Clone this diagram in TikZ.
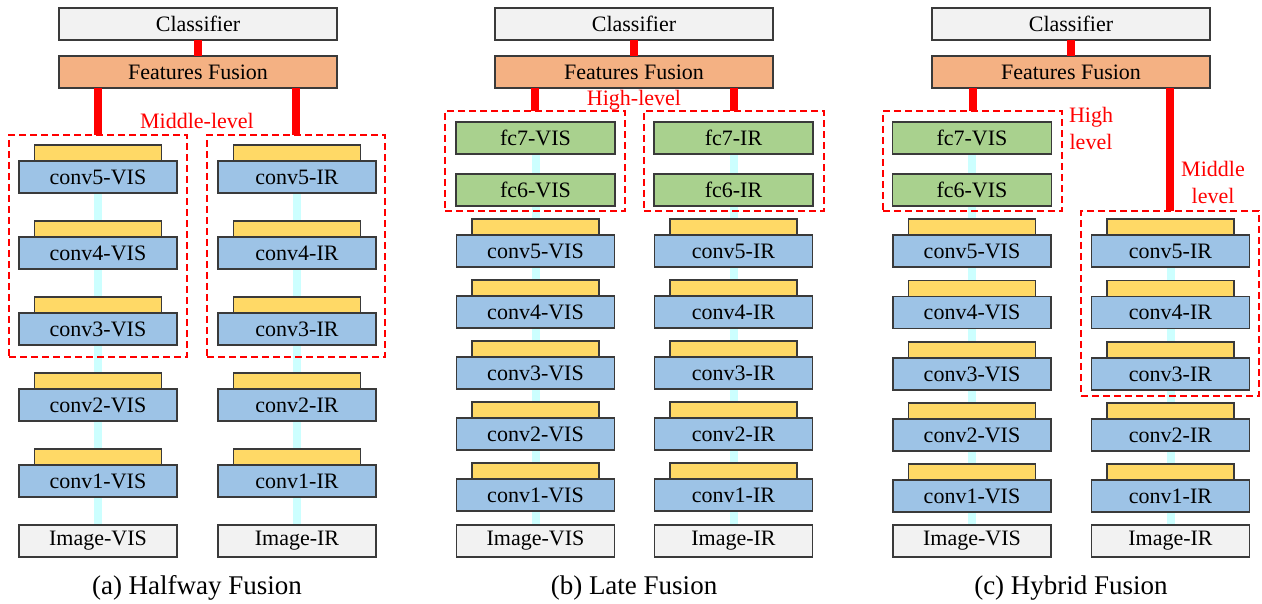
\documentclass[tikz,border=0pt]{standalone}
\usepackage{fontspec}
\setmainfont{Liberation Serif}
\usetikzlibrary{backgrounds}
\definecolor{edge}{HTML}{3A3A3A}
\definecolor{boxgray}{HTML}{F2F2F2}
\definecolor{fusorange}{HTML}{F4B183}
\definecolor{convblue}{HTML}{9DC3E6}
\definecolor{baryellow}{HTML}{FFD966}
\definecolor{fcgreen}{HTML}{A9D18E}
\definecolor{flowcyan}{HTML}{CCFFFF}
\definecolor{lvlred}{HTML}{FF0000}
\newcommand\fs{\fontsize{22}{27}\selectfont}
\newcommand\capfs{\fontsize{27}{32}\selectfont}
\tikzset{
  box/.style={draw=edge, line width=1.2pt, minimum height=32pt, inner sep=0pt, outer sep=0pt, font=\fs},
  conv/.style={box, fill=convblue, minimum width=158pt},
  bar/.style={draw=edge, line width=1.2pt, fill=baryellow, minimum width=127pt, minimum height=16pt, inner sep=0pt, outer sep=0pt},
  fcbox/.style={box, fill=fcgreen, minimum width=159pt},
  imgbox/.style={box, fill=boxgray, minimum width=158pt},
  clsbox/.style={box, fill=boxgray, minimum width=278pt},
  fusbox/.style={box, fill=fusorange, minimum width=278pt},
  lvlbox/.style={draw=lvlred, line width=1.3pt, dash pattern=on 7pt off 4pt, inner sep=0pt, outer sep=0pt},
  redline/.style={draw=lvlred, line width=8pt},
  cyanline/.style={draw=flowcyan, line width=8pt},
  lvltext/.style={text=lvlred, font=\fs, align=center, inner sep=0pt},
  captext/.style={font=\capfs, inner sep=0pt, anchor=base}
}
\newcommand\convlayer[4]{%
  \node[conv] (#1) at (#2,#3) {#4};
  \node[bar, anchor=south] (#1y) at (#1.north) {};
}
\begin{document}
\begin{tikzpicture}[x=1pt,y=-1pt]
\useasboundingbox (0,0) rectangle (1262,604);
% ================= (a) Halfway Fusion =================
\node[clsbox] (acls) at (198,24) {Classifier};
\node[fusbox] (afus) at (198,72) {Features Fusion};
\convlayer{a5v}{98}{177}{conv5-VIS}
\convlayer{a4v}{98}{253}{conv4-VIS}
\convlayer{a3v}{98}{329}{conv3-VIS}
\convlayer{a2v}{98}{405}{conv2-VIS}
\convlayer{a1v}{98}{481}{conv1-VIS}
\node[imgbox] (aimv) at (98,541) {Image-VIS};
\convlayer{a5r}{297}{177}{conv5-IR}
\convlayer{a4r}{297}{253}{conv4-IR}
\convlayer{a3r}{297}{329}{conv3-IR}
\convlayer{a2r}{297}{405}{conv2-IR}
\convlayer{a1r}{297}{481}{conv1-IR}
\node[imgbox] (aimr) at (297,541) {Image-IR};
\node[lvlbox, minimum width=178pt, minimum height=222pt] (alv) at (98,246) {};
\node[lvlbox, minimum width=178pt, minimum height=222pt] (alr) at (296,246) {};
\draw[redline] (acls.south) -- (afus.north);
\draw[redline] (afus.south -| alv.north) -- (alv.north);
\draw[redline] (afus.south -| alr.north) -- (alr.north);
\node[lvltext, anchor=base] (amid) at (197,129) {Middle-level};
\node[captext] (acap) at (197,594) {(a) Halfway Fusion};
% ================= (b) Late Fusion =================
\node[clsbox] (bcls) at (634,24) {Classifier};
\node[fusbox] (bfus) at (634,72) {Features Fusion};
\node[fcbox] (b7v) at (535.5,138) {fc7-VIS};
\node[fcbox] (b6v) at (535.5,190) {fc6-VIS};
\convlayer{b5v}{535.5}{251}{conv5-VIS}
\convlayer{b4v}{535.5}{312}{conv4-VIS}
\convlayer{b3v}{535.5}{373}{conv3-VIS}
\convlayer{b2v}{535.5}{434}{conv2-VIS}
\convlayer{b1v}{535.5}{495}{conv1-VIS}
\node[imgbox] (bimv) at (535.5,541) {Image-VIS};
\node[fcbox] (b7r) at (733.5,138) {fc7-IR};
\node[fcbox] (b6r) at (733.5,190) {fc6-IR};
\convlayer{b5r}{733.5}{251}{conv5-IR}
\convlayer{b4r}{733.5}{312}{conv4-IR}
\convlayer{b3r}{733.5}{373}{conv3-IR}
\convlayer{b2r}{733.5}{434}{conv2-IR}
\convlayer{b1r}{733.5}{495}{conv1-IR}
\node[imgbox] (bimr) at (733.5,541) {Image-IR};
\node[lvlbox, minimum width=180pt, minimum height=100pt] (blv) at (535,161) {};
\node[lvlbox, minimum width=180pt, minimum height=100pt] (blr) at (734,161) {};
\draw[redline] (bcls.south) -- (bfus.north);
\draw[redline] (bfus.south -| blv.north) -- (blv.north);
\draw[redline] (bfus.south -| blr.north) -- (blr.north);
\node[lvltext, anchor=base] (bhigh) at (634,106) {High-level};
\node[captext] (bcap) at (634,594) {(b) Late Fusion};
% ================= (c) Hybrid Fusion =================
\node[clsbox] (ccls) at (1071,24) {Classifier};
\node[fusbox] (cfus) at (1071,72) {Features Fusion};
\node[fcbox] (c7v) at (972,138) {fc7-VIS};
\node[fcbox] (c6v) at (972,190) {fc6-VIS};
\convlayer{c5v}{972}{251}{conv5-VIS}
\convlayer{c4v}{972}{312.5}{conv4-VIS}
\convlayer{c3v}{972}{374}{conv3-VIS}
\convlayer{c2v}{972}{435}{conv2-VIS}
\convlayer{c1v}{972}{496}{conv1-VIS}
\node[imgbox] (cimv) at (972,541) {Image-VIS};
\convlayer{c5r}{1170.5}{251}{conv5-IR}
\convlayer{c4r}{1170.5}{312.5}{conv4-IR}
\convlayer{c3r}{1170.5}{374}{conv3-IR}
\convlayer{c2r}{1170.5}{435}{conv2-IR}
\convlayer{c1r}{1170.5}{496}{conv1-IR}
\node[imgbox] (cimr) at (1170.5,541) {Image-IR};
\node[lvlbox, minimum width=179pt, minimum height=100pt] (clv) at (972.5,161) {};
\node[lvlbox, minimum width=178pt, minimum height=185pt] (clr) at (1170,303.5) {};
\draw[redline] (ccls.south) -- (cfus.north);
\draw[redline] (cfus.south -| clv.north) -- (clv.north);
\draw[redline] (cfus.south -| clr.north) -- (clr.north);
\node[lvltext] (chigh) at (1091,128) {High\\level};
\node[lvltext] (cmid) at (1213,182) {Middle\\level};
\node[captext] (ccap) at (1071,594) {(c) Hybrid Fusion};
% ================= data flow (behind the blocks) =================
\begin{scope}[on background layer]
\draw[cyanline] (a5v.center) -- (aimv.center);
\draw[cyanline] (a5r.center) -- (aimr.center);
\draw[cyanline] (b7v.center) -- (bimv.center);
\draw[cyanline] (b7r.center) -- (bimr.center);
\draw[cyanline] (c7v.center) -- (cimv.center);
\draw[cyanline] (c5r.center) -- (cimr.center);
\end{scope}
\end{tikzpicture}
\end{document}
